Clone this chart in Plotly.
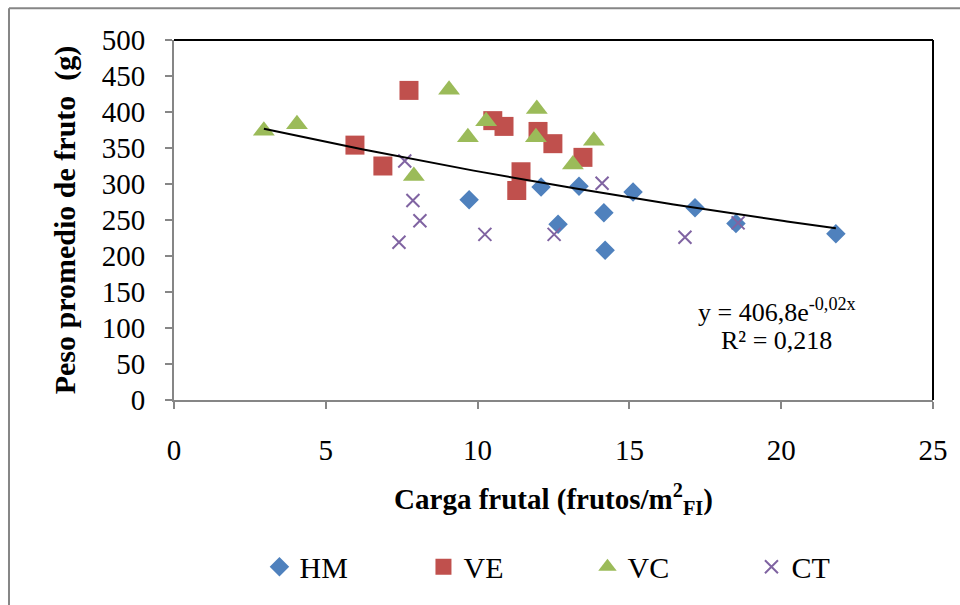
import numpy as np
import plotly.graph_objects as go

# ---- data ----
hm_x = [9.72, 12.09, 12.65, 13.34, 14.16, 14.2, 15.12, 17.16, 18.51, 21.8]
hm_y = [278, 296, 244, 297, 260, 208, 289, 267, 245, 231]

ve_x = [7.74, 5.96, 6.88, 10.5, 10.87, 11.99, 12.48, 11.43, 11.29, 13.47]
ve_y = [430, 354, 325, 388, 380, 373, 356, 317, 291, 337]

vc_x = [2.96, 4.05, 9.06, 7.9, 9.68, 10.28, 11.95, 11.92, 13.83, 13.14]
vc_y = [374, 383, 431, 311, 365, 387, 404, 365, 360, 327]

ct_x = [7.6, 7.87, 8.1, 7.41, 14.1, 10.24, 12.52, 16.83, 18.58]
ct_y = [332, 277, 249, 219, 301, 230, 230, 226, 246]

x_ticks = [0, 5, 10, 15, 20, 25]
y_ticks = [0, 50, 100, 150, 200, 250, 300, 350, 400, 450, 500]

series_names = ["HM", "VE", "VC", "CT"]
series_colors = ["#4F81BD", "#C0504D", "#9BBB59", "#8064A2"]

# ---- exponential trendline fitted on all points ----
all_x = np.array(hm_x + ve_x + vc_x + ct_x, dtype=float)
all_y = np.array(hm_y + ve_y + vc_y + ct_y, dtype=float)
b, ln_a = np.polyfit(all_x, np.log(all_y), 1)
a = np.exp(ln_a)
tx = np.linspace(all_x.min(), all_x.max(), 200)
ty = a * np.exp(b * tx)

FONT = "Liberation Serif, Times New Roman, serif"

fig = go.Figure()
fig.add_trace(go.Scatter(x=hm_x, y=hm_y, mode="markers", name=series_names[0],
                         marker=dict(symbol="diamond", size=15, color=series_colors[0])))
fig.add_trace(go.Scatter(x=ve_x, y=ve_y, mode="markers", name=series_names[1],
                         marker=dict(symbol="square", size=19, color=series_colors[1])))
fig.add_trace(go.Scatter(x=vc_x, y=vc_y, mode="markers", name=series_names[2],
                         marker=dict(symbol="triangle-up", size=19, color=series_colors[2])))
fig.add_trace(go.Scatter(x=ct_x, y=ct_y, mode="markers", name=series_names[3],
                         marker=dict(symbol="x-thin-open", size=13,
                                     line=dict(color=series_colors[3], width=2),
                                     color=series_colors[3])))
fig.add_trace(go.Scatter(x=tx, y=ty, mode="lines", showlegend=False,
                         line=dict(color="black", width=2), hoverinfo="skip"))

fig.update_layout(
    width=960, height=605,
    margin=dict(l=174, r=27, t=40, b=202),
    paper_bgcolor="white", plot_bgcolor="white",
    font=dict(family=FONT, color="black", size=29),
    showlegend=True,
    legend=dict(orientation="h", x=0.1126, xanchor="left", y=-0.463, yanchor="middle",
                font=dict(size=30, family=FONT), entrywidth=119, entrywidthmode="pixels",
                itemsizing="trace"),
    xaxis=dict(range=[0, 25], tickvals=x_ticks, showgrid=False, zeroline=False,
               showline=True, linecolor="#868686", linewidth=2,
               ticks="outside", ticklen=7, tickcolor="#868686", tickwidth=2,
               tickfont=dict(size=29), ticklabelstandoff=16,
               title=dict(text="<b>Carga frutal (frutos/m<sup>2</sup><sub>FI</sub>)</b>",
                          font=dict(size=29), standoff=24)),
    yaxis=dict(range=[0, 500], tickvals=y_ticks, showgrid=False, zeroline=False,
               showline=True, linecolor="#868686", linewidth=2,
               ticks="outside", ticklen=7, tickcolor="#868686", tickwidth=2,
               tickfont=dict(size=29), ticklabelstandoff=14,
               title=dict(text="<b>Peso promedio de fruto  (g)</b>",
                          font=dict(size=30), standoff=17)),
)

# plot frame top/right (black) and outer chart border (gray)
fig.add_shape(type="line", xref="paper", yref="paper", x0=0, x1=1, y0=1, y1=1,
              line=dict(color="black", width=2))
fig.add_shape(type="line", xref="paper", yref="paper", x0=1, x1=1, y0=0, y1=1,
              line=dict(color="black", width=2))
fig.add_shape(type="line", xref="paper", yref="paper", x0=-0.2174, x1=1.1, y0=1.088, y1=1.088,
              line=dict(color="#868686", width=2))
fig.add_shape(type="line", xref="paper", yref="paper", x0=-0.2174, x1=-0.2174, y0=-0.6, y1=1.088,
              line=dict(color="#868686", width=2))

fig.add_annotation(x=19.85, y=124, xref="x", yref="y", showarrow=False,
                   text="y = 406,8e<sup>-0,02x</sup>", font=dict(size=26, family=FONT))
fig.add_annotation(x=19.85, y=83, xref="x", yref="y", showarrow=False,
                   text="R² = 0,218", font=dict(size=26, family=FONT))

fig.write_html("out.html")
